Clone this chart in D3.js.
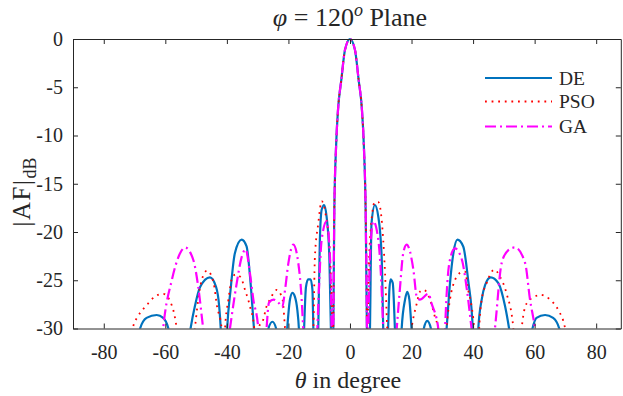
<!DOCTYPE html>
<html>
<head>
<meta charset="utf-8">
<script src="https://cdn.jsdelivr.net/npm/d3@7"></script>
<style>
  body { margin: 0; background: #fff; }
</style>
</head>
<body>
<svg id="chart" width="623" height="396"></svg>
<script>
// Data: [theta (deg), |AF| (dB)]; nulls dip below -30 and get clipped
const mainLobe = [[-5.4,-30],[-5.1,-18],[-4.5,-11],[-3.9,-7.4],[-2.8,-4.2],[-1.6,-1.1],[0,0],
  [1.6,-1.1],[2.8,-4.2],[3.9,-7.4],[4.5,-11],[5.1,-18],[5.5,-30]];

const deLeft = [[-70,-40],
  [-68.2,-30],[-66.1,-28.9],[-62.8,-28.6],[-60.7,-28.9],[-59.0,-30],[-55.4,-40],
  [-51.8,-30],[-50.4,-27.7],[-48.7,-25.7],[-45.5,-24.7],[-43.5,-25.7],[-42.5,-27.7],[-42.0,-30],[-41.0,-40],
  [-39.9,-30],[-38.8,-26.0],[-37.4,-22.2],[-35.2,-20.8],[-33.6,-21.5],[-32.3,-25.3],[-31.2,-30],[-28.8,-40],
  [-26.5,-30],[-25.2,-29.3],[-24.0,-30],[-22.2,-40],
  [-20.4,-30],[-19.5,-27.0],[-18.7,-26.3],[-17.9,-26.7],[-17.1,-28.1],[-16.6,-30],[-15.7,-40],
  [-14.9,-30],[-14.3,-25.7],[-13.6,-24.9],[-12.8,-24.9],[-12.2,-26.0],[-11.9,-30],[-11.1,-40],
  [-10.3,-30],[-9.8,-21],[-9.2,-17.7],[-8.4,-17.2],[-7.6,-18.4],[-6.7,-22.6],[-6.2,-30],[-5.8,-40]];
const deRight = [[5.9,-40],
  [6.5,-30],[7.0,-19.1],[8.1,-17.2],[9.2,-18.4],[10.3,-22.6],[10.8,-30],[11.6,-40],
  [12.4,-30],[12.8,-26.0],[13.2,-24.9],[13.9,-25.3],[14.6,-30],[15.7,-40],
  [16.8,-30],[17.9,-27.0],[18.6,-26.2],[19.3,-27.0],[20.0,-30],[22.0,-40],
  [24.0,-30],[25.1,-29.2],[26.3,-30],[28.8,-40],
  [31.4,-30],[32.5,-25.3],[33.6,-22.2],[34.9,-20.8],[36.8,-21.5],[38.4,-25.0],[39.9,-30],[40.8,-40],
  [41.7,-30],[42.8,-27.0],[43.9,-25.5],[45.7,-24.7],[48.2,-25.3],[50.4,-27.7],[51.7,-30],[55.5,-40],
  [59.3,-30],[60.6,-28.9],[63.4,-28.6],[66.0,-28.9],[68.0,-30],[70,-40]];

const psoLeft = [[-72,-40],
  [-70.6,-30],[-68.8,-28.7],[-66.1,-27.6],[-63.4,-26.7],[-60.7,-26.4],[-57.9,-27.6],[-56.3,-30],[-53.6,-40],
  [-50.4,-30],[-49.3,-27.0],[-48.2,-25.0],[-46.4,-24.0],[-44.3,-25.3],[-43.2,-27.7],[-41.7,-30],[-41.1,-40],
  [-40.6,-30],[-39.5,-27.0],[-38.1,-24.6],[-37.0,-24.4],[-35.5,-24.7],[-34.1,-26.0],[-32.5,-27.7],[-31.1,-30],[-30.5,-40],
  [-29.8,-30],[-28.2,-29.1],[-27.1,-27.7],[-26.0,-27.0],[-23.8,-26.0],[-21.9,-27.0],[-21.1,-30],[-16.5,-45],
  [-11.9,-30],[-11.4,-22.6],[-10.3,-19.1],[-9.2,-16.8],[-8.0,-18.0],[-6.5,-22.6],[-5.8,-30],[-5.6,-40]];
const psoRight = [[5.6,-40],
  [5.8,-30],[6.5,-20.8],[8.1,-16.9],[9.2,-16.9],[10.8,-20.8],[11.4,-24.3],[12.1,-30],[16,-45],
  [20.0,-30],[21.7,-27.4],[22.7,-26.2],[24.0,-26.0],[26.0,-27.0],[27.6,-28.8],[28.6,-30],[30.0,-40],
  [31.4,-30],[32.5,-27.0],[34.1,-25.0],[36.0,-24.2],[37.4,-24.1],[38.4,-26.0],[39.5,-27.7],[40.3,-30],[41.1,-40],
  [42.0,-30],[42.8,-27.0],[44.4,-25.3],[46.9,-23.9],[48.7,-24.6],[50.9,-26.4],[53.1,-30],[54.5,-40],
  [55.8,-30],[57.4,-27.4],[60.1,-26.7],[61.7,-26.5],[65.0,-27.0],[67.7,-28.1],[69.9,-30],[72,-40]];

const gaLeft = [[-63,-40],
  [-60.7,-30],[-57.9,-25.0],[-55.2,-22.2],[-53.6,-21.6],[-50.9,-22.9],[-49.3,-25.7],[-47.7,-30],[-43,-40],
  [-39.0,-30],[-36.8,-25.3],[-35.2,-22.6],[-33.9,-21.8],[-32.5,-24.3],[-31.4,-27.0],[-29.8,-30],[-28.5,-40],
  [-27.1,-30],[-26.3,-27.3],[-24.8,-27.0],[-23.0,-27.4],[-22.0,-27.8],[-21.1,-26.0],[-20.0,-23.2],[-18.4,-21.3],
  [-16.8,-23.2],[-15.7,-27.0],[-15.2,-30],[-13,-40],
  [-10.6,-30],[-10.1,-26.0],[-9.2,-20.8],[-7.6,-18.9],[-6.5,-22.6],[-6.0,-30],[-5.7,-40]];
const gaRight = [[5.7,-40],
  [6.0,-30],[6.5,-22.6],[7.6,-18.9],[9.2,-20.8],[10.3,-26.0],[10.8,-30],[13,-40],
  [15.2,-30],[16.2,-26.0],[17.3,-22.2],[18.4,-21.3],[20.6,-23.9],[21.7,-26.7],[22.7,-27.0],[25.5,-26.4],
  [26.5,-27.4],[28.7,-30],[29.8,-40],
  [30.9,-30],[31.4,-26.5],[32.4,-23.0],[34.1,-21.7],[36.3,-22.8],[38.0,-26.0],[39.5,-30],[43,-40],
  [47.1,-30],[49.3,-23.2],[51.4,-21.9],[53.6,-21.6],[56.9,-23.2],[58.5,-27.0],[60.1,-30],[63,-40]];

const xTicks = [-80, -60, -40, -20, 0, 20, 40, 60, 80];
const yTicks = [0, -5, -10, -15, -20, -25, -30];

const series = [
  { name: "DE", pts: deLeft.concat(mainLobe, deRight), color: "#0072BD", width: 2.2, dash: null },
  { name: "PSO", pts: psoLeft.concat(mainLobe, psoRight), color: "#FF0000", width: 1.8, dash: "1.8,4.8" },
  { name: "GA", pts: gaLeft.concat(mainLobe, gaRight), color: "#FF00FF", width: 2.2, dash: "11,4,2,4" }
];

const serif = "'Liberation Serif', 'DejaVu Serif', serif";
const ink = "#262626";

const svg = d3.select("#chart");
const pLeft = 73, pRight = 620.8, pTop = 39, pBottom = 328.5;

const x = d3.scaleLinear().domain([-90, 88]).range([pLeft, pRight]);
const y = d3.scaleLinear().domain([-30, 0]).range([pBottom, pTop]);

svg.append("defs").append("clipPath").attr("id", "plotclip")
  .append("rect")
  .attr("x", pLeft).attr("y", pTop - 2)
  .attr("width", pRight - pLeft).attr("height", pBottom - pTop + 2);

// Curves
const line = d3.line()
  .x((d) => x(d[0]))
  .y((d) => y(d[1]))
  .curve(d3.curveMonotoneX);

const plot = svg.append("g").attr("clip-path", "url(#plotclip)");
plot.selectAll("path")
  .data(series)
  .join("path")
  .attr("d", (d) => line(d.pts))
  .attr("fill", "none")
  .attr("stroke", (d) => d.color)
  .attr("stroke-width", (d) => d.width)
  .attr("stroke-dasharray", (d) => d.dash)
  .attr("stroke-linejoin", "round");

// Axes (ticks pointing inward, box all round)
const fmt = (d) => String(d);
const axisStyle = (g) => {
  g.select(".domain").attr("stroke", ink);
  g.selectAll(".tick line").attr("stroke", ink);
  g.selectAll("text")
    .style("font-family", serif)
    .style("font-size", "20px")
    .attr("fill", ink);
};

svg.append("g")
  .attr("transform", `translate(0,${pBottom})`)
  .call(d3.axisBottom(x).tickValues(xTicks).tickSize(-5).tickPadding(16).tickSizeOuter(0).tickFormat(fmt))
  .call(axisStyle);

svg.append("g")
  .attr("transform", `translate(0,${pTop})`)
  .call(d3.axisTop(x).tickValues(xTicks).tickSize(-5).tickSizeOuter(0).tickFormat(""))
  .call(axisStyle);

svg.append("g")
  .attr("transform", `translate(${pLeft},0)`)
  .call(d3.axisLeft(y).tickValues(yTicks).tickSize(-5).tickPadding(10).tickSizeOuter(0).tickFormat(fmt))
  .call(axisStyle);

svg.append("g")
  .attr("transform", `translate(${pRight},0)`)
  .call(d3.axisRight(y).tickValues(yTicks).tickSize(-5).tickSizeOuter(0).tickFormat(""))
  .call(axisStyle);

// Title
const title = svg.append("text")
  .attr("x", 350)
  .attr("y", 26)
  .attr("text-anchor", "middle")
  .attr("fill", ink)
  .style("font-family", serif)
  .style("font-size", "26px");
title.append("tspan").attr("font-style", "italic").text("\u03C6");
title.append("tspan").text("\u2005=\u2005120");
title.append("tspan").attr("font-style", "italic").attr("dy", -10).style("font-size", "18px").text("o");
title.append("tspan").attr("dy", 10).text(" Plane");

// X label
const xl = svg.append("text")
  .attr("x", 348)
  .attr("y", 388)
  .attr("text-anchor", "middle")
  .attr("fill", ink)
  .style("font-family", serif)
  .style("font-size", "24px");
xl.append("tspan").attr("font-style", "italic").text("\u03B8");
xl.append("tspan").text(" in degree");

// Y label
const yl = svg.append("text")
  .attr("transform", "translate(30,192) rotate(-90)")
  .attr("text-anchor", "middle")
  .attr("fill", ink)
  .style("font-family", serif)
  .style("font-size", "25px");
yl.append("tspan").style("letter-spacing", "1.5px").text("|AF|");
yl.append("tspan").attr("dy", 6).style("font-size", "18px").text("dB");

// Legend
const legend = svg.append("g")
  .selectAll("g")
  .data(series)
  .join("g")
  .attr("transform", (d, i) => `translate(485,${[78, 101.5, 126.5][i]})`);
legend.append("line")
  .attr("x1", 0).attr("x2", 67)
  .attr("stroke", (d) => d.color)
  .attr("stroke-width", (d) => d.width)
  .attr("stroke-dasharray", (d) => d.dash);
legend.append("text")
  .attr("x", 74)
  .attr("dy", "0.35em")
  .attr("fill", ink)
  .style("font-family", serif)
  .style("font-size", "19.5px")
  .text((d) => d.name);
</script>
</body>
</html>
